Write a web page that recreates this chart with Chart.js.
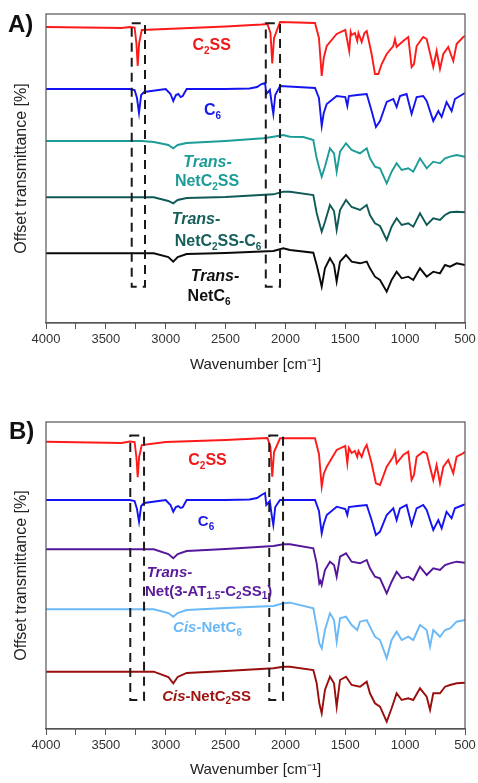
<!DOCTYPE html>
<html>
<head>
<meta charset="utf-8">
<script src="https://cdn.jsdelivr.net/npm/chart.js@4.4.3/dist/chart.umd.min.js"></script>
<style>
	html, body { margin: 0; padding: 0; background: #fff; }
	body { width: 478px; height: 783px; position: relative; overflow: hidden; font-family: "Liberation Sans", Arial, sans-serif; }
	.panel { position: absolute; left: 0; width: 478px; }
	#wrapA { top: 0; height: 380px; }
	#wrapB { top: 380px; height: 403px; }
	.tag { position: absolute; font-weight: bold; font-size: 24px; color: #111; line-height: 1; }
</style>
</head>
<body>
<div class="panel" id="wrapA"><canvas id="chartA" width="478" height="380" style="width:478px;height:380px"></canvas></div>
<div class="panel" id="wrapB"><canvas id="chartB" width="478" height="403" style="width:478px;height:403px"></canvas></div>
<div class="tag" style="left:8px;top:12px">A)</div>
<div class="tag" style="left:9px;top:419px">B)</div>
<script>
(function () {
	'use strict';

	// =========================================================
	// Data (wavenumber cm-1, offset transmittance)
	// =========================================================

	var xTicks = [4000, 3500, 3000, 2500, 2000, 1500, 1000, 500];

	// Panel A
	var c2ssA = [[4000,296],[3368,295],[3300,296],[3260,295.5],[3245,280],[3234,257],[3222,280],[3200,293],[3000,294],[2500,296.5],[2200,298.5],[2150,299],[2125,290],[2110,259.5],[2095,285],[2045,301],[1900,300.5],[1753,300],[1720,285],[1697,247],[1680,265],[1655,277],[1572,289],[1500,293],[1467,272],[1455,291],[1447,288],[1420,290],[1400,282],[1390,290],[1363,281],[1340,290],[1321,292],[1280,269],[1252,249],[1224,249],[1196,259],[1154,269],[1099,277],[1085,284],[1071,276],[1016,282],[974,286],[946,256],[926,259],[904,277],[849,286],[820,284],[765,256],[737,272],[709,254],[681,269],[640,276],[598,262],[570,279],[515,286],[500,287]];
	var c6A = [[4000,234],[3300,234],[3260,233],[3240,225],[3223,210],[3205,228],[3180,231],[3000,234],[2960,229],[2937,222],[2915,228],[2895,229],[2875,226],[2858,227],[2825,234],[2500,234],[2300,234.5],[2237,236],[2200,239],[2170,240],[2160,229],[2130,233],[2115,220],[2101,209],[2085,228],[2045,237],[1900,236],[1753,235],[1720,225],[1697,197],[1680,210],[1655,219],[1572,227],[1500,226],[1483,217],[1470,227],[1400,228],[1321,229],[1280,212],[1244,196],[1210,202],[1154,221],[1099,224],[1071,216],[1043,227],[988,229],[946,209],[904,226],[849,227],[820,222],[765,202],[723,212],[695,206],[654,221],[612,212],[584,224],[515,229],[500,230]];
	var transC2ssA = [[4000,182],[3200,182],[3100,181],[2978,178],[2937,174.7],[2900,178],[2825,180],[2500,182],[2185,184.7],[2100,186.3],[2018,188],[1962,186.3],[1850,186],[1767,183],[1739,164.7],[1717,154.7],[1697,146.3],[1670,156.3],[1628,174.7],[1594,169.7],[1572,151.3],[1544,171.3],[1494,179.7],[1447,173],[1377,169.7],[1321,174.7],[1294,164.7],[1252,156.3],[1210,154.7],[1154,139.7],[1113,151.3],[1071,159.7],[1029,153],[974,154.7],[932,151.3],[876,164.7],[820,154.7],[765,161.3],[709,159.7],[667,164.7],[625,166.3],[570,168],[500,166.3]];
	var transC2ssC6A = [[4000,125.7],[3100,125.7],[2978,122],[2937,119.7],[2900,123],[2825,125],[2500,126],[2100,128.7],[2018,131.3],[1962,131.3],[1767,128],[1739,110],[1717,100],[1697,91.3],[1670,101],[1628,118],[1594,112],[1572,93],[1544,113],[1494,123],[1447,116],[1377,113],[1321,118],[1294,108],[1252,99.7],[1210,97],[1154,83],[1113,96.3],[1071,104.7],[1029,98],[974,99.7],[932,96.3],[876,109.7],[820,98],[765,104.7],[709,103],[667,108],[625,110.7],[570,111.3],[500,110.7]];
	var transC6A = [[4000,69.7],[3100,69.7],[2978,66],[2937,61.3],[2900,66],[2825,69],[2500,70],[2100,72],[2018,74.7],[1962,73],[1767,70.3],[1739,58],[1717,47],[1697,36.3],[1670,54.7],[1628,64.7],[1594,58],[1572,41.3],[1544,61.3],[1494,68],[1447,61.3],[1377,59.7],[1321,61.3],[1294,54.7],[1252,46.3],[1210,43],[1154,31.3],[1113,43],[1071,51.3],[1029,44.7],[974,46.3],[932,43],[876,54.7],[820,46.3],[765,51.3],[709,49.7],[667,58],[625,56.3],[570,59.7],[500,58]];

	// Panel B
	var c2ssB = [[4000,287.3],[3368,286],[3300,287.5],[3260,287],[3245,272],[3234,251.7],[3222,272],[3200,284],[3000,287],[2500,289],[2200,290.7],[2150,291],[2125,282],[2110,252.3],[2095,277],[2045,290.7],[1900,290.7],[1753,290.7],[1720,275],[1697,242.3],[1680,255],[1655,262.3],[1572,279],[1500,283],[1483,265.7],[1470,281],[1447,276],[1420,278],[1400,272],[1390,278],[1363,272],[1340,280],[1321,284],[1280,265.7],[1244,245.7],[1210,244],[1154,262.3],[1099,272.3],[1085,277.3],[1071,265.7],[1016,274],[974,277.3],[946,249],[926,254],[904,272.3],[849,277.3],[820,275.7],[765,249],[737,264],[709,245.7],[681,262.3],[640,269],[598,255.7],[570,272.3],[515,275.7],[500,277.3]];
	var c6B = [[4000,229],[3300,229],[3260,228],[3240,220],[3223,207.3],[3205,223],[3180,226],[3000,229],[2960,224],[2937,217.3],[2915,222],[2895,223],[2875,221],[2858,221.7],[2825,229],[2500,229],[2300,229.5],[2237,231],[2200,234],[2170,236],[2160,224],[2130,228],[2115,214],[2101,204],[2085,222],[2045,229],[1900,229],[1753,229],[1720,218],[1697,195.7],[1680,205],[1655,214],[1572,222.3],[1500,220],[1483,214],[1470,222],[1400,223],[1321,224],[1280,209],[1244,194],[1210,197.3],[1154,214],[1099,220.7],[1071,209],[1043,220.7],[988,224],[946,204],[904,220.7],[849,224],[820,219],[765,199],[723,209],[695,200.7],[654,217.3],[612,210.7],[584,220.7],[515,224],[500,224.7]];
	var transAtB = [[4000,179.7],[3100,179.7],[2978,175],[2937,170.7],[2900,175],[2825,178],[2500,180],[2100,183],[2018,184.7],[1962,184.7],[1767,180.7],[1739,165.7],[1717,145.7],[1707,148],[1697,144],[1670,159],[1628,167.3],[1594,164],[1572,152.3],[1544,172.3],[1494,175.7],[1447,167.3],[1377,165.7],[1321,169],[1294,160.7],[1252,152.3],[1210,150.7],[1154,135.7],[1113,147.3],[1071,157.3],[1029,150.7],[974,152.3],[932,149],[876,162.3],[820,154],[765,160.7],[709,159],[667,164],[625,165.7],[570,167.3],[500,166.3]];
	var cisC6B = [[4000,119.7],[3100,119.7],[2978,116],[2937,112.3],[2900,116],[2825,119],[2500,121],[2100,123],[2018,125.7],[1962,126.3],[1767,120.7],[1739,102.3],[1717,85.7],[1697,80.7],[1670,99],[1628,115.7],[1594,109],[1572,87.3],[1544,110.7],[1494,112.3],[1447,104],[1400,99],[1377,107.3],[1321,109],[1294,102.3],[1252,92.3],[1210,89],[1154,70.7],[1113,89],[1071,97.3],[1029,89],[974,92.3],[932,89],[876,104],[820,99],[792,82.3],[765,99],[709,92.3],[667,99],[625,100.7],[570,107.3],[500,109]];
	var cisC2ssB = [[4000,57.3],[3100,57.3],[2978,52],[2937,45.7],[2900,52],[2825,56],[2500,58],[2100,60.7],[2018,62.3],[1962,62.3],[1767,59],[1739,45.7],[1717,25.7],[1697,15.7],[1670,39],[1628,52.3],[1594,45.7],[1572,22.3],[1544,49],[1494,52.3],[1447,44],[1377,42.3],[1321,47.3],[1294,35.7],[1252,25.7],[1210,22.3],[1154,7.3],[1113,20.7],[1071,35.7],[1029,29],[974,30.7],[932,29],[876,40.7],[820,32.3],[792,19],[765,35.7],[709,35.7],[667,42.3],[625,44],[570,45.7],[500,46.3]];

	// Dashed boxes marking the C-H and C≡C bands: [wnLeft, wnRight, yTop, yBottom]
	var boxesA = [[3284, 3173, 299.7, 36.3], [2164, 2045, 299.7, 36.3]];
	var boxesB = [[3296, 3181, 293.5, 29], [2135, 2020, 293.5, 29]];

	// =========================================================
	// Helpers
	// =========================================================

	var FONT = '"Liberation Sans", Arial, sans-serif';

	function pts(arr) {
		return arr.map(function (p) { return { x: p[0], y: p[1] }; });
	}

	function fontFor(flags, size) {
		flags = flags || '';
		var s = flags.indexOf('s') >= 0 ? Math.round(size * 0.65) : size;
		return (flags.indexOf('i') >= 0 ? 'italic ' : '') + 'bold ' + s + 'px ' + FONT;
	}

	// parts: [[text, flags]] ; flags 'i' = italic, 's' = subscript
	function drawRich(ctx, parts, x, y, align, size, color) {
		var widths = parts.map(function (p) {
			ctx.font = fontFor(p[1], size);
			return ctx.measureText(p[0]).width;
		});
		var total = widths.reduce(function (a, b) { return a + b; }, 0);
		var cx = align === 'left' ? x : x - total / 2;
		ctx.fillStyle = color;
		ctx.textAlign = 'left';
		ctx.textBaseline = 'middle';
		parts.forEach(function (p, i) {
			ctx.font = fontFor(p[1], size);
			var dy = (p[1] || '').indexOf('s') >= 0 ? size * 0.32 : 0;
			ctx.fillText(p[0], cx, y + dy);
			cx += widths[i];
		});
	}

	function overlayPlugin(boxes, labels) {
		return {
			id: 'overlay',
			afterDatasetsDraw: function (chart) {
				var ctx = chart.ctx;
				var xs = chart.scales.x, ys = chart.scales.y;
				var a = chart.chartArea;
				ctx.save();

				// frame
				ctx.strokeStyle = '#555';
				ctx.lineWidth = 1.2;
				ctx.strokeRect(a.left, a.top, a.right - a.left, a.bottom - a.top);

				// dashed boxes
				ctx.strokeStyle = '#1a1a1a';
				ctx.lineWidth = 2;
				ctx.setLineDash([9, 6]);
				boxes.forEach(function (b) {
					var x1 = xs.getPixelForValue(b[0]), x2 = xs.getPixelForValue(b[1]);
					var y1 = ys.getPixelForValue(b[2]), y2 = ys.getPixelForValue(b[3]);
					ctx.strokeRect(x1, y1, x2 - x1, y2 - y1);
				});
				ctx.setLineDash([]);

				// series labels
				labels.forEach(function (l) {
					drawRich(ctx, l.parts, xs.getPixelForValue(l.x), ys.getPixelForValue(l.y), l.align, l.size, l.color);
				});
				ctx.restore();
			}
		};
	}

	function makeChart(canvasId, datasets, yMax, padTop, xAxisH, titlePadBottom, boxes, labels) {
		return new Chart(document.getElementById(canvasId), {
			type: 'line',
			data: { datasets: datasets },
			options: {
				responsive: false,
				animation: false,
				layout: { padding: { top: padTop, right: 13, left: 0, bottom: 0 } },
				plugins: { legend: { display: false }, tooltip: { enabled: false } },
				elements: { point: { radius: 0 }, line: { borderWidth: 1.9, tension: 0 } },
				scales: {
					x: {
						type: 'linear',
						reverse: true,
						min: 500,
						max: 4000,
						afterFit: function (s) { s.height = xAxisH; },
						afterBuildTicks: function (s) {
							var t = [];
							for (var v = 500; v <= 4000; v += 250) t.push({ value: v });
							s.ticks = t;
						},
						ticks: {
							autoSkip: false,
							maxRotation: 0,
							padding: 3,
							color: '#333',
							font: { family: FONT, size: 13 },
							callback: function (v) { return xTicks.indexOf(v) >= 0 ? String(v) : ''; }
						},
						grid: { drawOnChartArea: false, tickLength: 6, color: '#555' },
						border: { color: '#555', width: 1.2 },
						title: {
							display: true,
							text: 'Wavenumber [cm\u207B\u00B9]',
							color: '#222',
							font: { family: FONT, size: 15 },
							padding: { top: 0, bottom: titlePadBottom }
						}
					},
					y: {
						min: 0,
						max: yMax,
						afterFit: function (s) { s.width = 46; },
						ticks: { display: false },
						grid: { display: false },
						border: { display: false },
						title: {
							display: true,
							text: 'Offset transmittance [%]',
							color: '#222',
							font: { family: FONT, size: 16 },
							padding: { top: 12, bottom: 0 }
						}
					}
				}
			},
			plugins: [overlayPlugin(boxes, labels)]
		});
	}

	function ds(arr, color) {
		return { data: pts(arr), borderColor: color, backgroundColor: color, fill: false };
	}

	// =========================================================
	// Boot
	// =========================================================

	var labelsA = [
		{ x: 2616, y: 277.3, align: 'center', size: 16, color: '#f01818', parts: [['C'], ['2', 's'], ['SS']] },
		{ x: 2609, y: 212.3, align: 'center', size: 16, color: '#1a1ae6', parts: [['C'], ['6', 's']] },
		{ x: 2651, y: 160.3, align: 'center', size: 16, color: '#1c9c98', parts: [['Trans-', 'i']] },
		{ x: 2655, y: 141.3, align: 'center', size: 16, color: '#1c9c98', parts: [['NetC'], ['2', 's'], ['SS']] },
		{ x: 2747, y: 103.7, align: 'center', size: 16, color: '#16605c', parts: [['Trans-', 'i']] },
		{ x: 2563, y: 81.3, align: 'center', size: 16, color: '#16605c', parts: [['NetC'], ['2', 's'], ['SS-C'], ['6', 's']] },
		{ x: 2588, y: 46.3, align: 'center', size: 16, color: '#111', parts: [['Trans-', 'i']] },
		{ x: 2638, y: 26.3, align: 'center', size: 16, color: '#111', parts: [['NetC'], ['6', 's']] }
	];
	var labelsB = [
		{ x: 2651, y: 268.3, align: 'center', size: 16, color: '#f01818', parts: [['C'], ['2', 's'], ['SS']] },
		{ x: 2663, y: 207, align: 'center', size: 15, color: '#1a1ae6', parts: [['C'], ['6', 's']] },
		{ x: 3159, y: 155.7, align: 'left', size: 15, color: '#5a1a9a', parts: [['Trans-', 'i']] },
		{ x: 3173, y: 137.3, align: 'left', size: 15, color: '#5a1a9a', parts: [['Net(3-AT'], ['1.5', 's'], ['-C'], ['2', 's'], ['SS'], ['1', 's'], [')']] },
		{ x: 2651, y: 100.7, align: 'center', size: 15, color: '#6ab8f5', parts: [['Cis', 'i'], ['-NetC'], ['6', 's']] },
		{ x: 2658, y: 32.3, align: 'center', size: 15, color: '#a01414', parts: [['Cis', 'i'], ['-NetC'], ['2', 's'], ['SS']] }
	];

	makeChart('chartA', [
		ds(c2ssA, '#ff1a1a'),
		ds(c6A, '#1414f0'),
		ds(transC2ssA, '#1c9c98'),
		ds(transC2ssC6A, '#0f5a56'),
		ds(transC6A, '#0a0a0a')
	], 309, 14, 57, 6, boxesA, labelsA);

	makeChart('chartB', [
		ds(c2ssB, '#ff1a1a'),
		ds(c6B, '#1414f0'),
		ds(transAtB, '#55179a'),
		ds(cisC6B, '#6ab8f5'),
		ds(cisC2ssB, '#9a0e0e')
	], 307, 42, 54, 4, boxesB, labelsB);
})();
</script>
</body>
</html>
